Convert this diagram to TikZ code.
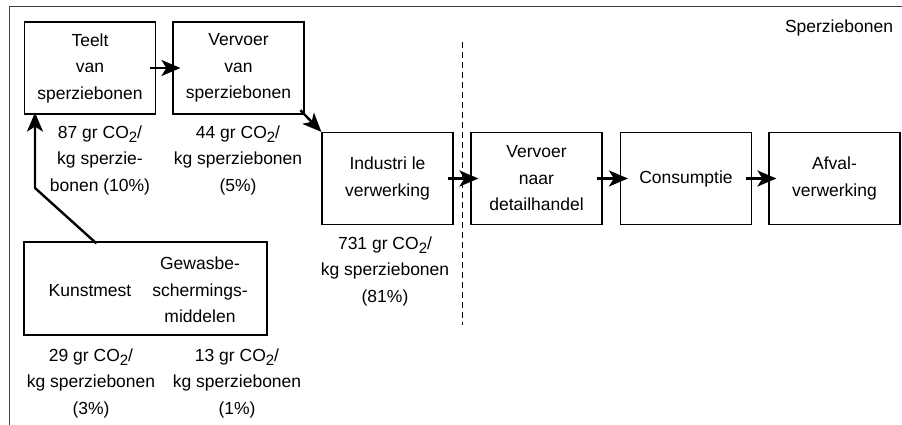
\documentclass[tikz,border=0pt]{standalone}
\usepackage{fontspec}
\setmainfont{Liberation Sans}
\usetikzlibrary{arrows.meta,positioning}
\newcommand\onder[1]{\raisebox{-4.5pt}{\fontsize{15}{15}\selectfont #1}}

\begin{document}
\begin{tikzpicture}[x=1pt, y=-1pt,
  every node/.style={font=\fontsize{17.5}{26.5}\selectfont},
  stap/.style={draw, line width=1.2pt, minimum width=131pt, minimum height=92pt,
               inner sep=0pt, align=center},
  getal/.style={align=center, inner sep=0pt},
  pijl/.style={line width=2.4pt, -{Stealth[length=19pt, width=16pt, inset=5pt]},
               shorten <=-6pt, shorten >=-8pt},
]
  \useasboundingbox (0,0) rectangle (902,425);

  % Frame and title
  \draw[black!75, line width=1pt] (902,7) -- (9,7) -- (9,425);
  \node (titel) at (839,28) {Sperziebonen};

  % Chain steps
  \node[stap] (teelt)      at (90,68)      {Teelt\\van\\sperziebonen};
  \node[stap] (vervoer)    at (238.5,68)   {Vervoer\\van\\sperziebonen};
  \node[stap] (industrie)  at (387.5,178.5) {Industri le\\verwerking};
  \node[stap] (detail)     at (536.5,178.5) {Vervoer\\naar\\detailhandel};
  \node[stap] (consumptie) at (686,178.5)  {Consumptie};
  \node[stap] (afval)      at (834.5,178.5) {Afval-\\verwerking};

  % Inputs box
  \node[stap, minimum width=243pt, minimum height=93pt] (kunst) at (145.5,288.5) {};
  \node (kunstmest) at (90,291) {Kunstmest};
  \node[align=center] (gewas) at (200,290) {Gewasbe-\\schermings-\\middelen};

  % Emission figures
  \node[getal] (lteelt)   at (100,160) {87 gr CO\onder{2}/\\kg sperzie-\\bonen (10\%)};
  \node[getal] (lvervoer) at (238,160) {44 gr CO\onder{2}/\\kg sperziebonen\\(5\%)};
  \node[getal] (lindus)   at (385,271) {731 gr CO\onder{2}/\\kg sperziebonen\\(81\%)};
  \node[getal] (lkunst)   at (91,383)  {29 gr CO\onder{2}/\\kg sperziebonen\\(3\%)};
  \node[getal] (lgewas)   at (237,383) {13 gr CO\onder{2}/\\kg sperziebonen\\(1\%)};

  % Divider
  \draw[line width=1pt, dash pattern=on 6pt off 4pt] (462,42) -- (462,325);

  % Arrows
  \draw[pijl] (teelt) -- (vervoer);
  \draw[pijl, shorten >=0pt] (vervoer.south east) -- (industrie.north west);
  \draw[pijl] (industrie) -- (detail);
  \draw[pijl] (detail) -- (consumptie);
  \draw[pijl] (consumptie) -- (afval);
  \coordinate (knik) at (35,188);
  \draw[pijl, shorten <=0pt, shorten >=-2pt] ([xshift=73pt, yshift=-2pt]kunst.north west)
    -- (knik) -- (knik |- teelt.south);
\end{tikzpicture}
\end{document}
